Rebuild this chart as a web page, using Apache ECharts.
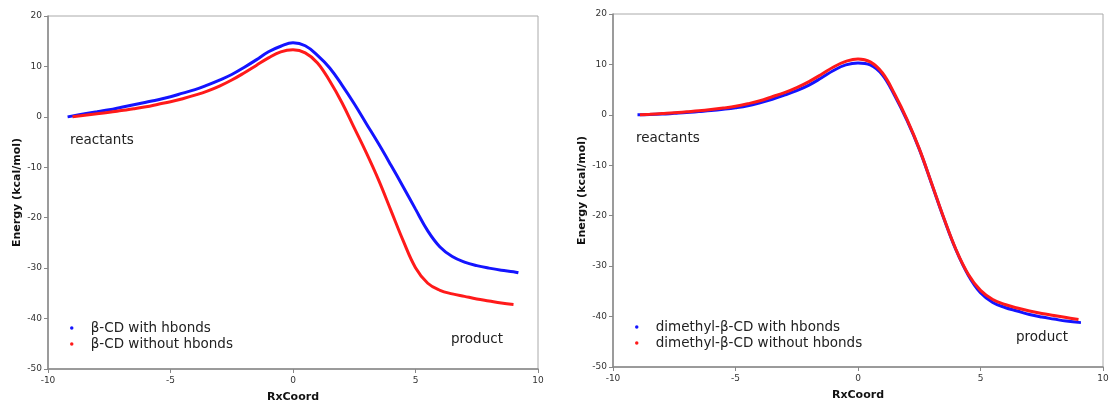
<!DOCTYPE html>
<html>
    <head>
        <meta charset="utf-8" />
        <script src="https://cdn.jsdelivr.net/npm/echarts@6/dist/echarts.min.js"></script>
    </head>
    <body style="margin: 0">
        <style>
            html,
            body,
            #main {
                width: 1109px;
                height: 400px;
                background: #fff;
            }
        </style>
        <div id="main"></div>
        <script>
            // left panel: beta-CD
            var xLeftHb = [-9.2, -8.5, -8, -7.5, -7, -6.5, -6, -5.5, -5, -4.5, -4, -3.5, -3, -2.5, -2, -1.5, -1, -0.5,
                0, 0.5, 1, 1.5, 2, 2.5, 3, 3.5, 4, 4.5, 5, 5.5, 6, 6.5, 7, 7.5, 8, 8.5, 9, 9.2];
            var yLeftHb = [0.0, 0.6, 1.0, 1.4, 1.9, 2.4, 2.9, 3.4, 4.0, 4.7, 5.4, 6.3, 7.3, 8.4, 9.8, 11.3, 12.9, 14.0,
                14.7, 14.1, 12.2, 9.7, 6.3, 2.6, -1.4, -5.4, -9.6, -13.9, -18.3, -22.6, -25.8, -27.7, -28.8, -29.5, -30.0, -30.4, -30.7, -30.9];
            var xLeftNoHb = [-9, -8.5, -8, -7.5, -7, -6.5, -6, -5.5, -5, -4.5, -4, -3.5, -3, -2.5, -2, -1.5, -1, -0.5,
                0, 0.5, 1, 1.5, 2, 2.5, 3, 3.5, 4, 4.5, 5, 5.5, 6, 6.5, 7, 7.5, 8, 8.5, 9];
            var yLeftNoHb = [0.0, 0.3, 0.6, 0.9, 1.25, 1.6, 2.0, 2.5, 3.0, 3.6, 4.3, 5.1, 6.1, 7.3, 8.7, 10.2, 11.7, 12.9,
                13.3, 12.7, 10.7, 7.1, 2.8, -2.2, -7.2, -12.6, -18.6, -24.6, -29.9, -33.0, -34.4, -35.1, -35.6, -36.1, -36.5, -36.9, -37.2];

            // right panel: dimethyl-beta-CD
            var xRightHb = [-9, -8.5, -8, -7.5, -7, -6.5, -6, -5.5, -5, -4.5, -4, -3.5, -3, -2.5, -2, -1.5, -1, -0.5,
                0, 0.5, 1, 1.5, 2, 2.5, 3, 3.5, 4, 4.5, 5, 5.5, 6, 6.5, 7, 7.5, 8, 8.5, 9.1];
            var yRightHb = [0.0, 0.05, 0.15, 0.3, 0.45, 0.65, 0.85, 1.1, 1.4, 1.8, 2.4, 3.1, 3.9, 4.8, 5.9, 7.3, 8.8, 9.9,
                10.3, 9.9, 7.9, 3.8, -1.1, -6.8, -13.6, -20.5, -26.8, -31.8, -35.3, -37.2, -38.2, -38.9, -39.6, -40.1, -40.5, -40.9, -41.2];
            var xRightNoHb = [-8.9, -8.5, -8, -7.5, -7, -6.5, -6, -5.5, -5, -4.5, -4, -3.5, -3, -2.5, -2, -1.5, -1, -0.5,
                0, 0.5, 1, 1.5, 2, 2.5, 3, 3.5, 4, 4.5, 5, 5.5, 6, 6.5, 7, 7.5, 8, 8.5, 9];
            var yRightNoHb = [0.0, 0.1, 0.25, 0.4, 0.6, 0.8, 1.05, 1.35, 1.7, 2.2, 2.8, 3.6, 4.4, 5.4, 6.6, 8.0, 9.5, 10.6,
                11.1, 10.5, 8.3, 4.1, -0.9, -6.7, -13.5, -20.4, -26.7, -31.6, -34.8, -36.6, -37.6, -38.3, -38.9, -39.4, -39.8, -40.2, -40.6];

            var xTicks = { min: -10, max: 10, interval: 5 };
            var yTicks = { min: -50, max: 20, interval: 10 };

            var FONT = "DejaVu Sans";

            function zip(xs, ys) {
                var out = [];
                for (var i = 0; i < xs.length; i++) {
                    out.push([xs[i], ys[i]]);
                }
                return out;
            }

            function xAxisFor(gridIndex) {
                return {
                    gridIndex: gridIndex,
                    type: "value",
                    min: xTicks.min,
                    max: xTicks.max,
                    interval: xTicks.interval,
                    name: "RxCoord",
                    nameLocation: "middle",
                    nameGap: 23,
                    nameTextStyle: { fontFamily: FONT, fontSize: 11, fontWeight: "bold", color: "#111" },
                    axisLine: { onZero: false, lineStyle: { color: "#888", width: 1.5 } },
                    axisTick: { show: true, length: 4, lineStyle: { color: "#888" } },
                    axisLabel: { fontFamily: FONT, fontSize: 9, color: "#333", margin: 7 },
                    splitLine: { show: false },
                };
            }

            function yAxisFor(gridIndex) {
                return {
                    gridIndex: gridIndex,
                    type: "value",
                    min: yTicks.min,
                    max: yTicks.max,
                    interval: yTicks.interval,
                    name: "Energy (kcal/mol)",
                    nameLocation: "middle",
                    nameRotate: 90,
                    nameGap: 25,
                    nameTextStyle: { fontFamily: FONT, fontSize: 11, fontWeight: "bold", color: "#111" },
                    axisLine: { onZero: false, lineStyle: { color: "#888", width: 1.5 } },
                    axisTick: { show: true, length: 4, lineStyle: { color: "#888" } },
                    axisLabel: { fontFamily: FONT, fontSize: 9, color: "#333", margin: 6 },
                    splitLine: { show: false },
                };
            }

            function curve(name, idx, data, color) {
                return {
                    name: name,
                    type: "line",
                    xAxisIndex: idx,
                    yAxisIndex: idx,
                    data: data,
                    smooth: 0.4,
                    showSymbol: false,
                    lineStyle: { color: color, width: 3 },
                    itemStyle: { color: color },
                };
            }

            function legendFor(names, left, top) {
                return {
                    data: names,
                    orient: "vertical",
                    left: left,
                    top: top,
                    icon: "circle",
                    itemWidth: 28,
                    itemHeight: 3.5,
                    itemGap: 0,
                    padding: 0,
                    textStyle: { fontFamily: FONT, fontSize: 13.5, color: "#222", lineHeight: 16 },
                };
            }

            function note(text, x, y) {
                return {
                    type: "text",
                    x: x,
                    y: y,
                    style: { text: text, fontFamily: FONT, fontSize: 13.5, fill: "#222", verticalAlign: "middle" },
                };
            }

            var chart = echarts.init(document.getElementById("main"));
            chart.setOption({
                animation: false,
                grid: [
                    { left: 48, top: 16, width: 490, height: 353, outerBoundsMode: "none", show: true, borderColor: "#aaa", borderWidth: 1 },
                    { left: 613, top: 14, width: 490, height: 353, outerBoundsMode: "none", show: true, borderColor: "#aaa", borderWidth: 1 },
                ],
                xAxis: [xAxisFor(0), xAxisFor(1)],
                yAxis: [yAxisFor(0), yAxisFor(1)],
                legend: [
                    legendFor(["β-CD with hbonds", "β-CD without hbonds"], 70, 320),
                    legendFor(["dimethyl-β-CD with hbonds", "dimethyl-β-CD without hbonds"], 635, 319),
                ],
                graphic: [
                    note("reactants", 70, 140),
                    note("product", 451, 339),
                    note("reactants", 636, 138),
                    note("product", 1016, 337),
                ],
                series: [
                    curve("β-CD with hbonds", 0, zip(xLeftHb, yLeftHb), "#1414ff"),
                    curve("β-CD without hbonds", 0, zip(xLeftNoHb, yLeftNoHb), "#ff1a1a"),
                    curve("dimethyl-β-CD with hbonds", 1, zip(xRightHb, yRightHb), "#1414ff"),
                    curve("dimethyl-β-CD without hbonds", 1, zip(xRightNoHb, yRightNoHb), "#ff1a1a"),
                ],
            });
        </script>
    </body>
</html>
